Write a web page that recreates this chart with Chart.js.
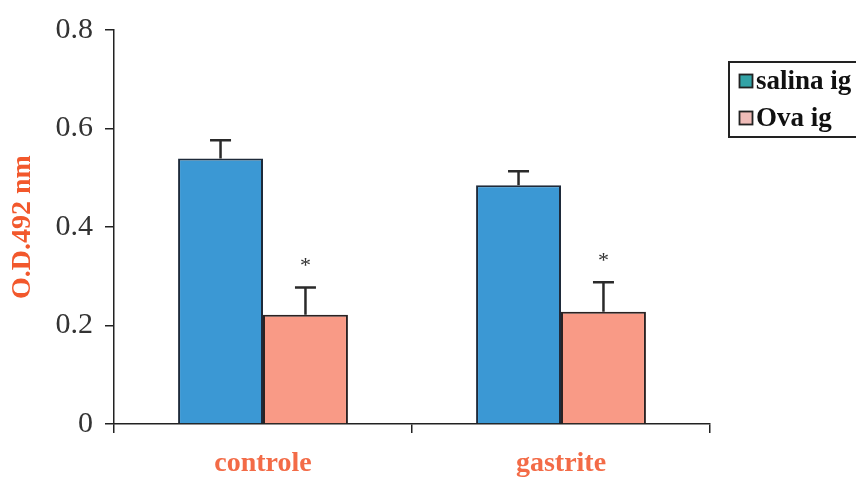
<!DOCTYPE html>
<html>
<head>
<meta charset="utf-8">
<script src="https://cdn.jsdelivr.net/npm/chart.js@4.4.1/dist/chart.umd.min.js"></script>
<style>
  html, body { margin: 0; padding: 0; background: #fff; }
  #wrap { width: 856px; height: 477px; position: relative; }
</style>
</head>
<body>
<div id="wrap"><canvas id="c" width="856" height="477"></canvas></div>
<script>
// Groups and measured optical densities (mean ± SEM)
const categories = ['controle', 'gastrite'];
const salinaMean = [0.539, 0.485];
const salinaErr  = [0.037, 0.028];
const ovaMean    = [0.222, 0.228];
const ovaErr     = [0.055, 0.060];
const ovaSignificant = [true, true];
const yTicks = [0, 0.2, 0.4, 0.6, 0.8];

const seriesNames = ['salina ig', 'Ova ig'];
const colors = ['#3b98d4', '#f99a86'];
const legendSwatch = ['#33a3a6', '#f0bcb8'];

// Error bars and significance marks, positioned through the chart scales
const errorBars = {
  id: 'errorBars',
  afterDatasetsDraw(chart) {
    const ctx = chart.ctx;
    const y = chart.scales.y;
    ctx.save();
    ctx.strokeStyle = '#2a2a2a';
    ctx.lineWidth = 2.5;
    chart.data.datasets.forEach((ds, di) => {
      const meta = chart.getDatasetMeta(di);
      meta.data.forEach((bar, i) => {
        const top = y.getPixelForValue(ds.data[i]);
        const tip = y.getPixelForValue(ds.data[i] + ds.errors[i]);
        ctx.beginPath();
        ctx.moveTo(bar.x, top);
        ctx.lineTo(bar.x, tip);
        ctx.moveTo(bar.x - 10.5, tip);
        ctx.lineTo(bar.x + 10.5, tip);
        ctx.stroke();
        if (ds.significant && ds.significant[i]) {
          ctx.fillStyle = '#333';
          ctx.font = '22px "Liberation Serif", serif';
          ctx.textAlign = 'center';
          ctx.textBaseline = 'middle';
          ctx.fillText('*', bar.x, tip - 21);
        }
      });
    });
    ctx.restore();
  }
};

// Boxed legend at the right side
const boxLegend = {
  id: 'boxLegend',
  afterDraw(chart) {
    const ctx = chart.ctx;
    ctx.save();
    ctx.strokeStyle = '#222';
    ctx.lineWidth = 2;
    ctx.strokeRect(729, 62, 150, 75);
    ctx.font = 'bold 27px "Liberation Serif", serif';
    ctx.textBaseline = 'middle';
    ctx.textAlign = 'left';
    seriesNames.forEach((name, i) => {
      const cy = 81 + i * 37;
      ctx.fillStyle = legendSwatch[i];
      ctx.fillRect(739, cy - 7, 14, 14);
      ctx.strokeStyle = '#222';
      ctx.lineWidth = 1.8;
      ctx.strokeRect(739.5, cy - 6.5, 13, 13);
      ctx.fillStyle = '#111';
      ctx.fillText(name, 756, cy + 1);
    });
    ctx.restore();
  }
};

new Chart(document.getElementById('c'), {
  type: 'bar',
  data: {
    labels: categories,
    datasets: [
      { label: seriesNames[0], data: salinaMean, errors: salinaErr,
        backgroundColor: colors[0], borderColor: '#1e2a3a', borderWidth: 2 },
      { label: seriesNames[1], data: ovaMean, errors: ovaErr, significant: ovaSignificant,
        backgroundColor: colors[1], borderColor: '#2a2222', borderWidth: 2 }
    ]
  },
  options: {
    responsive: false,
    animation: false,
    layout: { padding: { top: 26, right: 146, left: 0, bottom: 0 } },
    plugins: { legend: { display: false }, tooltip: { enabled: false } },
    datasets: { bar: { barPercentage: 1.0, categoryPercentage: 0.57 } },
    scales: {
      x: {
        afterFit(s) { s.height = 53; },
        grid: { offset: true, drawOnChartArea: false, drawTicks: true, tickLength: 9, color: '#222', lineWidth: 1.5 },
        border: { display: true, color: '#222', width: 1.5 },
        ticks: { color: '#f36b47', padding: 14, font: { family: '"Liberation Serif", serif', size: 28, weight: 'bold' } }
      },
      y: {
        min: 0, max: 0.8,
        afterFit(s) { s.width = 114; },
        afterBuildTicks(s) { s.ticks = yTicks.map(v => ({ value: v })); },
        grid: { drawOnChartArea: false, drawTicks: true, tickLength: 9, color: '#222', lineWidth: 1.5 },
        border: { display: true, color: '#222', width: 1.5 },
        ticks: {
          color: '#333', padding: 12,
          font: { family: '"Liberation Serif", serif', size: 30 },
          callback: v => (v === 0 ? '0' : v.toFixed(1))
        },
        title: {
          display: true, text: 'O.D.492 nm', color: '#f2582c',
          font: { family: '"Liberation Serif", serif', size: 28, weight: 'bold', lineHeight: 1 },
          padding: { top: 9, bottom: 0 }
        }
      }
    }
  },
  plugins: [errorBars, boxLegend]
});
</script>
</body>
</html>
